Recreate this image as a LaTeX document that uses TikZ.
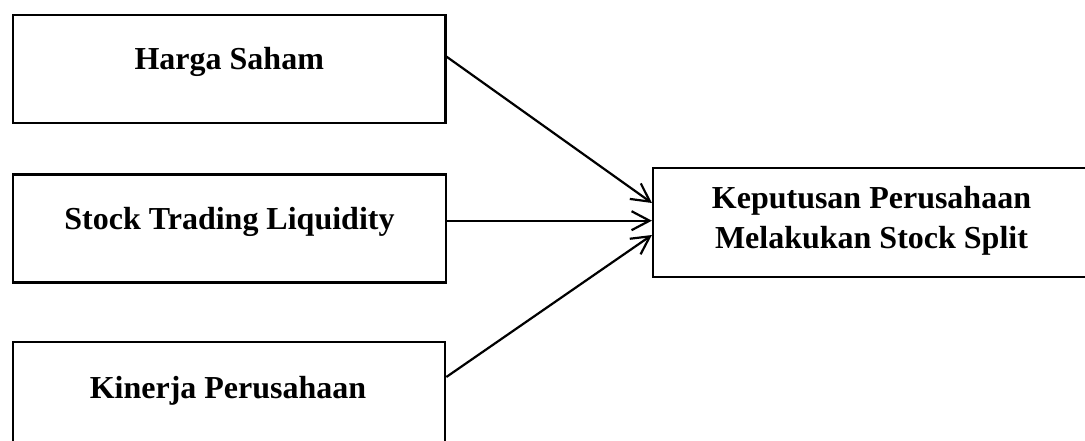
\documentclass[tikz,border=0pt]{standalone}
\usepackage{fontspec}
\setmainfont{Liberation Serif}
\usetikzlibrary{arrows.meta}
\begin{document}
\begin{tikzpicture}[x=1pt,y=-1pt,
  box/.style={draw=black,line width=2.2pt,minimum width=432.5pt,minimum height=108pt,inner sep=0pt},
  lbl/.style={anchor=base,font=\fontsize{32}{40}\selectfont\bfseries,align=center,inner sep=0pt},
  arr/.style={line width=2.2pt,-{Straight Barb[length=18pt,width=19pt,line width=2.2pt]}}]
\useasboundingbox (0,0) rectangle (1085,441);
\clip (0,0) rectangle (1085,441);
\node[box] (hs) at (229.25,69) {};
\node[box] (stl) at (229.5,228.5) {};
\node[box] (kp) at (229,395.7) {};
\node[box,minimum width=437pt,minimum height=108.7pt] (ks) at (871.5,222.3) {};
\node[lbl] (t1) at (229.25,69.5) {Harga Saham};
\node[lbl] (t2) at (229.5,229.3) {Stock Trading Liquidity};
\node[lbl] (t3) at (228,398) {Kinerja Perusahaan};
\node[lbl] (t4) at (871.5,248.3) {Keputusan Perusahaan\\Melakukan Stock Split};
\draw[arr] ([yshift=12.3pt]hs.east) -- ([yshift=19.3pt]ks.west);
\draw[arr] ([yshift=7.8pt]stl.east) -- ([yshift=1.6pt]ks.west);
\draw[arr] ([yshift=18.7pt]kp.east) -- ([yshift=-12.7pt]ks.west);
\end{tikzpicture}
\end{document}
